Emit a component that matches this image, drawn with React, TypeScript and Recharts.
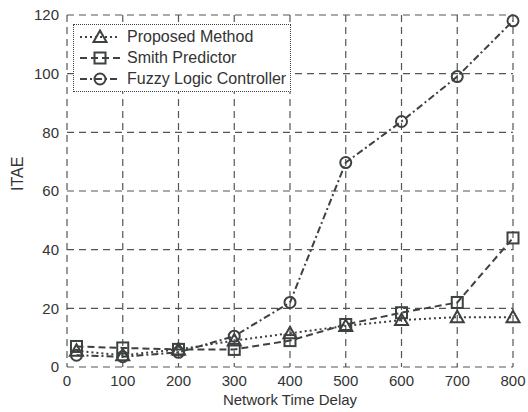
import { LineChart, Line, XAxis, YAxis, CartesianGrid } from 'recharts';

const delays = [17, 100, 200, 300, 400, 500, 600, 700, 800];
const proposed = [5.5, 4, 6, 9, 11.5, 14, 16, 17, 17];
const smith = [7, 6.5, 6, 6, 9, 14.5, 18.5, 22, 44];
const fuzzy = [4, 3.5, 5, 10.5, 22, 69.7, 83.7, 99, 118];
const xTicks = [0, 100, 200, 300, 400, 500, 600, 700, 800];
const yTicks = [0, 20, 40, 60, 80, 100, 120];

const data = delays.map((d, i) => ({
  delay: d,
  proposed: proposed[i],
  smith: smith[i],
  fuzzy: fuzzy[i]
}));

const ink = '#3d4141';
const font = '"Liberation Sans", Arial, sans-serif';

const Triangle = ({ cx, cy }: any) => (
  <path
    d={`M${cx},${cy - 6.5} L${cx + 6.5},${cy + 5} L${cx - 6.5},${cy + 5} Z`}
    fill="none"
    stroke={ink}
    strokeWidth={2}
  />
);
const Square = ({ cx, cy }: any) => (
  <rect x={cx - 5.5} y={cy - 5.5} width={11} height={11} fill="none" stroke={ink} strokeWidth={2} />
);
const Circle = ({ cx, cy }: any) => <circle cx={cx} cy={cy} r={5.5} fill="none" stroke={ink} strokeWidth={2} />;

const series = [
  { key: 'proposed', name: 'Proposed Method', dash: '2 3', Dot: Triangle },
  { key: 'smith', name: 'Smith Predictor', dash: '7 4', Dot: Square },
  { key: 'fuzzy', name: 'Fuzzy Logic Controller', dash: '7 3 2 3', Dot: Circle }
];

// legend drawn as an overlay so it doesn't eat into the plot area
const LegendBox = () => (
  <div
    style={{
      position: 'absolute',
      left: 73,
      top: 24,
      border: `1.5px dotted ${ink}`,
      background: '#fff',
      padding: '1px 4px 2px 4px',
      fontFamily: font,
      fontSize: 16,
      color: '#333'
    }}
  >
    {series.map((s) => (
      <div key={s.key} style={{ display: 'flex', alignItems: 'center', height: 21 }}>
        <svg width={44} height={16} style={{ marginRight: 5 }}>
          <line x1={2} y1={8} x2={42} y2={8} stroke={ink} strokeWidth={1.8} strokeDasharray={s.dash} />
          <s.Dot cx={22} cy={8} />
        </svg>
        <span>{s.name}</span>
      </div>
    ))}
  </div>
);

export default function App() {
  return (
    <div style={{ position: 'absolute', left: 0, top: 0, width: 528, height: 412, background: '#fff' }}>
      <LineChart width={528} height={412} data={data} margin={{ top: 15, right: 15, left: 17, bottom: 15 }}>
        <CartesianGrid stroke="#555" strokeDasharray="7 5" strokeWidth={1.2} />
        <XAxis
          dataKey="delay"
          type="number"
          domain={[0, 800]}
          ticks={xTicks}
          axisLine={false}
          tickLine={false}
          height={30}
          tick={{ fill: '#333', fontSize: 15, fontFamily: font }}
          label={{ value: 'Network Time Delay', position: 'insideBottom', offset: -8, fill: '#333', fontSize: 15, fontFamily: font }}
        />
        <YAxis
          type="number"
          domain={[0, 120]}
          ticks={yTicks}
          axisLine={false}
          tickLine={false}
          width={50}
          tick={{ fill: '#333', fontSize: 15, fontFamily: font }}
          label={{ value: 'ITAE', angle: -90, position: 'insideLeft', offset: 0, fill: '#333', fontSize: 16, fontFamily: font }}
        />
        {series.map((s) => (
          <Line
            key={s.key}
            dataKey={s.key}
            name={s.name}
            stroke={ink}
            strokeWidth={2}
            strokeDasharray={s.dash}
            type="linear"
            dot={(p: any) => <s.Dot key={`${s.key}-${p.index}`} cx={p.cx} cy={p.cy} />}
            isAnimationActive={false}
          />
        ))}
      </LineChart>
      <LegendBox />
    </div>
  );
}
